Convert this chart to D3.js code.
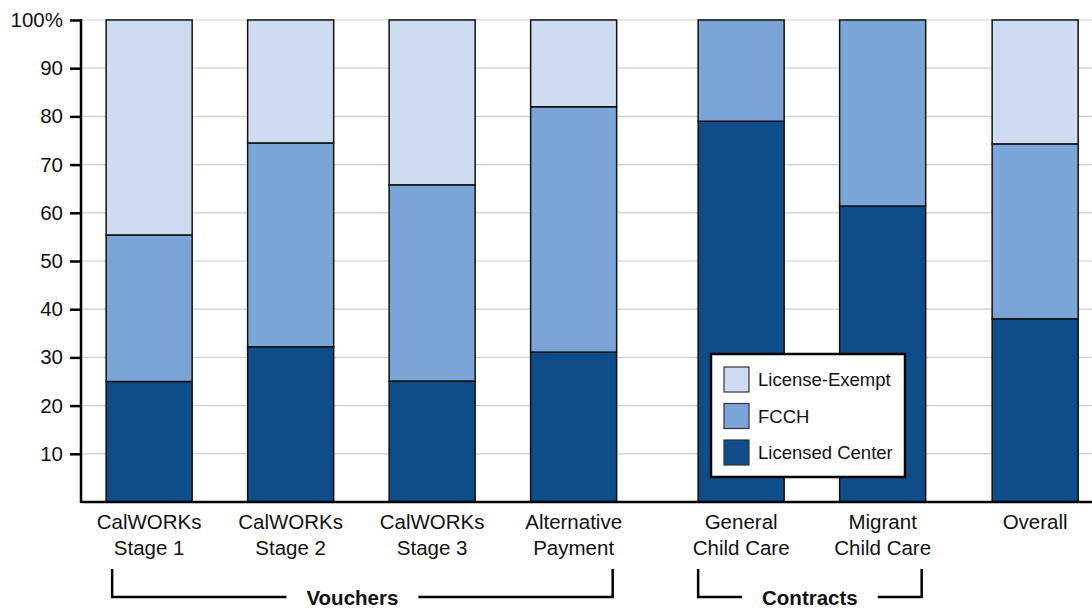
<!DOCTYPE html>
<html>
<head>
<meta charset="utf-8">
<script src="https://cdn.jsdelivr.net/npm/d3@7"></script>
<style>
  body { margin: 0; background: #fff; }
  svg text { font-family: "Liberation Sans", Arial, Helvetica, sans-serif; fill: #111; }
</style>
</head>
<body>
<svg id="chart" width="1092" height="609"></svg>
<script>
// categories (two-line labels) and the group each one belongs to
var categories = ['CalWORKs Stage 1', 'CalWORKs Stage 2', 'CalWORKs Stage 3', 'Alternative Payment',
  'General Child Care', 'Migrant Child Care', 'Overall'];
var labelLines = [['CalWORKs', 'Stage 1'], ['CalWORKs', 'Stage 2'], ['CalWORKs', 'Stage 3'],
  ['Alternative', 'Payment'], ['General', 'Child Care'], ['Migrant', 'Child Care'], ['Overall']];
var groupOf = ['Vouchers', 'Vouchers', 'Vouchers', 'Vouchers', 'Contracts', 'Contracts', 'Overall'];
var bracketGroups = ['Vouchers', 'Contracts'];

// series values (percent)
var licensedCenter = [25, 32.2, 25.1, 31.1, 79, 61.4, 38];
var fcch = [30.4, 42.3, 40.7, 50.9, 21, 38.6, 36.3];
var licenseExempt = [44.6, 25.5, 34.2, 18, 0, 0, 25.7];

var seriesNames = ['Licensed Center', 'FCCH', 'License-Exempt'];
var yTicks = [10, 20, 30, 40, 50, 60, 70, 80, 90, 100];

var colors = { 'Licensed Center': '#0f4c8a', 'FCCH': '#7ba5d6', 'License-Exempt': '#cfdbf0' };
// extra horizontal space pushed in front of each group
var groupShift = { 'Vouchers': 0, 'Contracts': 26, 'Overall': 37 };

var svg = d3.select('#chart');
var axisX = 81, baseY = 502, topY = 20;

var rows = categories.map(function(c, i) {
  return { cat: c, 'Licensed Center': licensedCenter[i], 'FCCH': fcch[i], 'License-Exempt': licenseExempt[i] };
});
var stacked = d3.stack().keys(seriesNames)(rows);

var x = d3.scaleBand().domain(categories).range([78.4, 78.4 + 7 * 141.5]).paddingInner(0.392).paddingOuter(0.196);
function bx(c) { return x(c) + groupShift[groupOf[categories.indexOf(c)]]; }
var y = d3.scaleLinear().domain([0, 100]).range([baseY, topY]);

// grid
svg.append('g').selectAll('line').data(yTicks).join('line')
  .attr('x1', axisX).attr('x2', 1092)
  .attr('y1', function(d) { return y(d); }).attr('y2', function(d) { return y(d); })
  .attr('stroke', '#cfcfcf').attr('stroke-width', 1.2);

// bars
svg.append('g').selectAll('g').data(stacked).join('g')
  .attr('fill', function(s) { return colors[s.key]; })
  .selectAll('rect').data(function(s) { return s.filter(function(d) { return d[1] - d[0] > 0; }); }).join('rect')
  .attr('x', function(d) { return bx(d.data.cat); })
  .attr('width', x.bandwidth())
  .attr('y', function(d) { return y(d[1]); })
  .attr('height', function(d) { return y(d[0]) - y(d[1]); })
  .attr('stroke', '#111').attr('stroke-width', 1.5);

// y axis
var yAxis = svg.append('g').attr('transform', 'translate(' + axisX + ',0)')
  .call(d3.axisLeft(y).tickValues(yTicks).tickSize(11).tickPadding(7)
    .tickFormat(function(d) { return d === 100 ? '100%' : d; }));
yAxis.select('.domain').remove();
yAxis.selectAll('.tick line').attr('stroke', '#000').attr('stroke-width', 2.5);
yAxis.selectAll('.tick text').attr('font-size', 20.5).attr('fill', '#111')
  .attr('font-family', '"Liberation Sans", Arial, sans-serif');
svg.append('line').attr('x1', axisX).attr('x2', axisX).attr('y1', y(100) - 1).attr('y2', baseY + 1)
  .attr('stroke', '#000').attr('stroke-width', 2.5);
svg.append('line').attr('x1', axisX).attr('x2', 1092).attr('y1', baseY).attr('y2', baseY)
  .attr('stroke', '#000').attr('stroke-width', 2.5);

// category labels
var lab = svg.append('g').selectAll('text').data(categories).join('text')
  .attr('text-anchor', 'middle').attr('font-size', 20.5)
  .attr('x', function(c) { return bx(c) + x.bandwidth() / 2; })
  .attr('y', 529);
lab.selectAll('tspan').data(function(c) { return labelLines[categories.indexOf(c)]; }).join('tspan')
  .attr('x', function() { var c = d3.select(this.parentNode).datum(); return bx(c) + x.bandwidth() / 2; })
  .attr('dy', function(d, i) { return i === 0 ? 0 : 26; })
  .text(function(d) { return d; });

// group brackets
bracketGroups.forEach(function(g) {
  var cats = categories.filter(function(c, i) { return groupOf[i] === g; });
  var x1 = bx(cats[0]) + (g === 'Vouchers' ? 6 : 0);
  var x2 = bx(cats[cats.length - 1]) + x.bandwidth() - 4;
  var tx = g === 'Vouchers' ? (x1 + x2) / 2 - 10 : (x1 + x2) / 2;
  var t = svg.append('text').attr('x', tx).attr('y', 605).attr('text-anchor', 'middle')
    .attr('font-size', 20.5).attr('font-weight', 'bold').text(g);
  var w = t.node().getComputedTextLength();
  var gap = 20;
  var path = 'M' + x1 + ',569V597H' + (tx - w / 2 - gap) +
    'M' + (tx + w / 2 + gap) + ',597H' + x2 + 'V569';
  svg.append('path').attr('d', path).attr('fill', 'none').attr('stroke', '#000').attr('stroke-width', 2.5);
});

// legend
var legend = svg.append('g').attr('transform', 'translate(711,354)');
legend.append('rect').attr('width', 194).attr('height', 123).attr('fill', '#fff')
  .attr('stroke', '#000').attr('stroke-width', 2.5);
var legendOrder = seriesNames.slice().reverse();
var li = legend.selectAll('g').data(legendOrder).join('g')
  .attr('transform', function(d, i) { return 'translate(13,' + (13 + i * 36.5) + ')'; });
li.append('rect').attr('width', 25).attr('height', 25)
  .attr('fill', function(d) { return colors[d]; }).attr('stroke', '#333').attr('stroke-width', 1.2);
li.append('text').attr('x', 34).attr('y', 19).attr('font-size', 18.5).text(function(d) { return d; });
</script>
</body>
</html>
